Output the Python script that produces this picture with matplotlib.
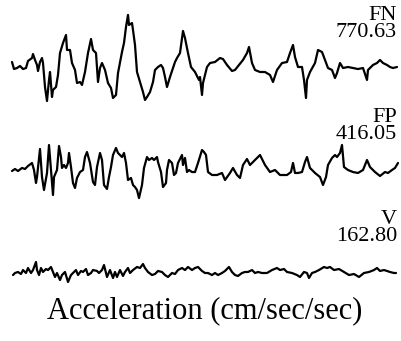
import matplotlib
matplotlib.use("Agg")
import matplotlib.pyplot as plt
import numpy as np

# Ground-motion acceleration traces (cm/sec/sec) versus time (sec)
fn_time = [0.0, 0.2, 0.5, 0.8, 1.1, 1.4, 1.6, 2.0, 2.1, 2.3, 2.5, 2.6, 2.8, 3.0, 3.1,
           3.3, 3.5, 3.7, 3.8, 4.0, 4.1, 4.4, 4.6, 4.8, 5.1, 5.4, 5.5, 5.8, 6.0, 6.3,
           6.5, 6.8, 7.0, 7.3, 7.6, 7.9, 8.1, 8.4, 8.6, 8.8, 9.0, 9.3, 9.6, 9.9, 10.1,
           10.4, 10.6, 11.0, 11.2, 11.4, 11.6, 11.7, 12.0, 12.1, 12.3, 12.5, 12.8, 13.1,
           13.3, 13.5, 13.8, 14.1, 14.3, 14.6, 14.9, 15.1, 15.3, 15.5, 15.8, 16.1, 16.3,
           16.5, 16.8, 17.1, 17.3, 17.6, 17.9, 18.3, 18.7, 18.8, 19.0, 19.1, 19.5, 19.8,
           20.3, 20.8, 21.1, 21.5, 22.0, 22.3, 22.7, 23.1, 23.5, 23.7, 24.0, 24.3, 24.8,
           25.3, 25.8, 26.1, 26.5, 27.0, 27.5, 27.8, 28.1, 28.3, 28.6, 29.0, 29.2, 29.4,
           29.5, 29.8, 30.3, 30.6, 31.0, 31.3, 31.6, 32.0, 32.3, 32.5, 32.8, 33.1, 33.6,
           34.1, 34.6, 35.1, 35.5, 35.6, 36.1, 36.5, 36.8, 37.1, 37.5, 37.8, 38.1, 38.5]
fn_acc = [74, -30, -15, 15, -30, -15, 89, 133, 192, 104, 30, -59, 74, 133, 59,
          -296, -503, -192, -74, -444, -340, -296, -118, 207, 355, 474, 252, 252, 59, -44,
          -237, -222, -266, -74, 207, 414, 252, 207, -222, -15, 59, -44, -237, -311, -459,
          -414, -89, 222, 355, 592, 770.63, 622, 651, 548, 326, -74, -222, -370,
          -488, -444, -370, -222, -44, 0, 30, -15, -148, -296, -148, -15, 74,
          133, 207, 533, 429, 207, 0, -74, -192, -148, -414, -237, 0, 59,
          74, 133, 118, 30, -59, -44, 30, 104, 207, 296, 59, -44, -74,
          -74, -118, -222, -44, 59, 74, 207, 326, 148, 0, 0, -192, -459,
          -192, -74, 59, 252, 222, 104, -15, -44, -163, -89, 59, -15, 0,
          -15, -30, -15, -192, -44, 30, 59, 104, 59, 30, 0, -15, 0]

fp_time = [0.0, 0.3, 0.6, 1.0, 1.3, 1.6, 2.0, 2.2, 2.4, 2.5, 2.8, 3.0, 3.2, 3.5, 3.7,
           3.9, 4.1, 4.2, 4.5, 4.7, 4.9, 5.0, 5.2, 5.4, 5.6, 5.7, 5.9, 6.1, 6.3, 6.5,
           6.8, 7.1, 7.3, 7.5, 7.8, 8.1, 8.3, 8.5, 8.8, 9.0, 9.2, 9.5, 9.7, 9.9, 10.1,
           10.4, 10.6, 11.0, 11.2, 11.4, 11.6, 11.9, 12.1, 12.3, 12.5, 12.7, 13.0, 13.2,
           13.5, 13.7, 14.0, 14.2, 14.5, 14.6, 14.9, 15.1, 15.4, 15.5, 15.7, 16.0, 16.2,
           16.4, 16.6, 17.0, 17.1, 17.3, 17.5, 17.7, 18.0, 18.3, 18.6, 19.0, 19.2, 19.4,
           19.6, 20.0, 20.5, 21.0, 21.3, 21.8, 22.1, 22.5, 22.8, 23.1, 23.5, 23.8, 24.3,
           24.8, 25.3, 25.8, 26.3, 26.8, 27.5, 27.9, 28.1, 28.3, 28.6, 29.0, 29.3, 29.5,
           29.8, 30.3, 30.8, 31.1, 31.4, 31.6, 32.0, 32.3, 32.5, 32.8, 33.0, 33.2, 33.6,
           34.1, 34.6, 35.1, 35.5, 35.8, 36.3, 36.8, 37.3, 37.6, 38.0, 38.3, 38.6]
fp_acc = [-15, 15, -15, 30, 15, 59, 104, 0, -192, -104, 311, -104, -296, -44, 370,
          0, -370, -104, 0, 355, 192, 30, 74, 30, 104, 252, 44, -192, -266, -118,
          -30, 0, 192, 266, 104, -178, -222, 44, 252, 148, -222, -281, -104, 44, 222,
          326, 252, 192, 252, 104, -148, -118, -222, -252, -296, -416.05, -222, 30,
          192, 148, 178, 148, 192, 118, -30, -252, -192, 0, 148, 104, -74,
          -44, 104, 222, 74, 178, -30, 0, -30, -30, 104, 296, 266, 222,
          -30, -74, -74, -44, -148, -44, 30, -74, -118, 74, 163, 74, 148,
          222, 74, -30, 0, -74, -74, -30, 104, -44, -44, -30, 118, 192,
          30, -44, -104, -222, -104, 74, 178, 222, 192, 252, 370, 44, 0,
          -30, -44, 0, 148, 44, -30, -89, -30, -44, 0, 30, 104]

v_time = [0.1, 0.3, 0.6, 0.9, 1.1, 1.4, 1.6, 1.9, 2.1, 2.4, 2.5, 2.7, 2.9, 3.1, 3.4,
          3.6, 3.9, 4.1, 4.3, 4.5, 4.8, 5.0, 5.3, 5.6, 5.9, 6.1, 6.4, 6.6, 6.9, 7.1,
          7.4, 7.6, 7.9, 8.1, 8.5, 8.7, 9.0, 9.2, 9.5, 9.8, 10.1, 10.3, 10.5, 10.8,
          11.1, 11.3, 11.6, 11.8, 12.1, 12.5, 12.8, 13.1, 13.3, 13.6, 14.0, 14.3, 14.6,
          15.0, 15.3, 15.6, 16.0, 16.3, 16.6, 17.0, 17.3, 17.6, 18.0, 18.3, 18.6, 19.0,
          19.3, 19.6, 20.0, 20.3, 20.6, 21.0, 21.3, 21.7, 22.0, 22.3, 22.6, 23.0, 23.3,
          23.6, 24.0, 24.3, 24.6, 25.0, 25.5, 26.0, 26.5, 26.8, 27.2, 27.5, 28.0, 28.5,
          28.8, 29.2, 29.5, 29.7, 30.0, 30.3, 30.7, 31.2, 31.5, 31.8, 32.2, 32.7, 33.2,
          33.7, 34.2, 34.7, 35.2, 35.7, 36.2, 36.5, 36.8, 37.2, 37.5, 37.8, 38.2, 38.4]
v_acc = [-30, 0, 15, -15, 44, 0, 74, 0, 44, 162.80, 44, -30, 74, 15, 59,
         44, 89, 15, -59, 0, -104, -30, 15, -133, -30, 0, 44, -30, 30, 15,
         59, -30, 0, 44, 30, 0, 44, 118, -59, 44, -74, 15, -59, 44,
         -44, 15, 74, 0, 44, 89, 74, 133, 74, 15, -30, -15, 30,
         15, -30, -59, 0, -15, 44, 74, 44, 89, 44, 74, 89, 30,
         0, 0, -30, 0, -30, 0, 30, 89, 15, -30, -44, 0, 15,
         15, 44, 0, 15, 0, 0, 44, 74, 44, 59, 15, 0, -30,
         -59, 15, 0, -74, 0, 15, 44, 89, 74, 89, 44, 59, 15,
         -30, -15, -59, 0, 15, 44, 74, 30, 44, 30, 15, 0, 0]

components = ["FN", "FP", "V"]
traces = [(fn_time, fn_acc), (fp_time, fp_acc), (v_time, v_acc)]

# Layout: vertical scale (cm/sec/sec per pixel) and trace baselines (pixels from top)
W, H = 402, 341
scale = 14.8
baselines = [67, 170, 273]
label_y = [24, 126, 228]

plt.rcParams["font.family"] = ["Liberation Serif", "DejaVu Serif"]
fig = plt.figure(figsize=(W / 100, H / 100), dpi=100)
ax = fig.add_axes([0, 0, 1, 1])
ax.set_xlim(-1.2, 39.0)
ax.set_ylim(-H * scale, 0)
ax.axis("off")

x_right = -1.2 + 397 / 10.0
for name, (t, a), base, ly in zip(components, traces, baselines, label_y):
    a = np.asarray(a, dtype=float)
    ax.plot(t, a - base * scale, color="black", lw=1.6,
            solid_joinstyle="round", solid_capstyle="round")
    peak = np.max(np.abs(a))
    ax.text(x_right, -ly * scale, f"{name}\n{peak:.2f}", ha="right", va="center",
            multialignment="right", linespacing=0.85, fontsize=16)

ax.text(-1.2 + 205 / 10.0, -311 * scale, "Acceleration (cm/sec/sec)",
        ha="center", va="center", fontsize=22)

fig.savefig("out.png", dpi=100)
